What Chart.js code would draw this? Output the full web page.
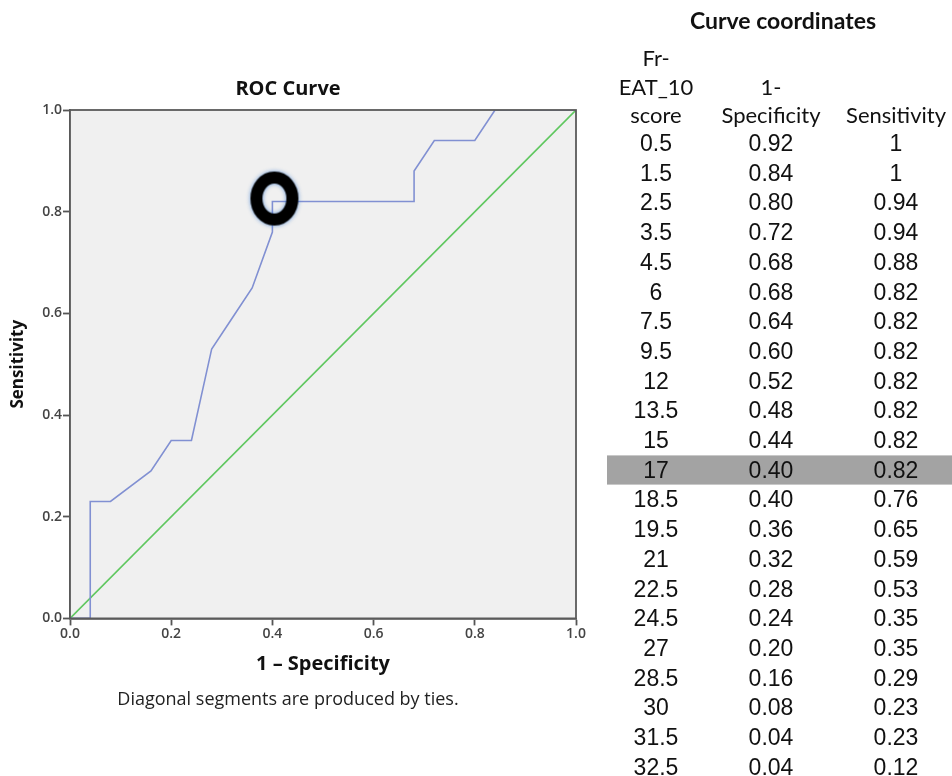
<!DOCTYPE html>
<html>
<head>
<meta charset="utf-8">
<script src="https://cdn.jsdelivr.net/npm/chart.js@4.4.1/dist/chart.umd.min.js"></script>
<style>
  body { margin: 0; background: #fff; width: 952px; height: 776px; overflow: hidden; position: relative; }
  #chartBox { position: absolute; left: 0; top: 0; width: 600px; height: 720px; }
  #coords { position: absolute; left: 0; top: 0; width: 952px; height: 776px; pointer-events: none; }
  .cell { position: absolute; transform: translate(-50%, -50%); white-space: nowrap; color: #111; }
  .head { font-family: Lato, "Open Sans", sans-serif; font-size: 22px; }
  .title { font-size: 23px; font-weight: bold; }
  .val { font-family: "Liberation Sans", Arial, sans-serif; font-size: 23px; }
  .band { position: absolute; left: 607px; width: 345px; height: 30px; background: #a3a3a3; border-top: 1px solid #c8c8c8; border-bottom: 1px solid #c8c8c8; box-sizing: border-box; }
</style>
</head>
<body>
<div id="chartBox"><canvas id="rocChart" width="600" height="720"></canvas></div>
<div id="coords"></div>
<script>
// Curve coordinates table (rows visible in the reference)
const scores = ['0.5', '1.5', '2.5', '3.5', '4.5', '6', '7.5', '9.5', '12', '13.5', '15',
  '17', '18.5', '19.5', '21', '22.5', '24.5', '27', '28.5', '30', '31.5', '32.5'];
const fpr = [0.92, 0.84, 0.80, 0.72, 0.68, 0.68, 0.64, 0.60, 0.52, 0.48, 0.44,
  0.40, 0.40, 0.36, 0.32, 0.28, 0.24, 0.20, 0.16, 0.08, 0.04, 0.04];
const tpr = [1, 1, 0.94, 0.94, 0.88, 0.82, 0.82, 0.82, 0.82, 0.82, 0.82,
  0.82, 0.76, 0.65, 0.59, 0.53, 0.35, 0.35, 0.29, 0.23, 0.23, 0.12];
const fprLabels = ['0.92', '0.84', '0.80', '0.72', '0.68', '0.68', '0.64', '0.60', '0.52', '0.48', '0.44',
  '0.40', '0.40', '0.36', '0.32', '0.28', '0.24', '0.20', '0.16', '0.08', '0.04', '0.04'];
const tprLabels = ['1', '1', '0.94', '0.94', '0.88', '0.82', '0.82', '0.82', '0.82', '0.82', '0.82',
  '0.82', '0.76', '0.65', '0.59', '0.53', '0.35', '0.35', '0.29', '0.23', '0.23', '0.12'];
// curve ends that fall outside the visible table rows
const startPoint = [1, 1];
const endPoints = [[0.04, 0], [0, 0]];
const chosenRow = 11; // score 17
const axisTicks = [0, 0.2, 0.4, 0.6, 0.8, 1.0];

// build the curve from the table
let rocPoints = [{ x: startPoint[0], y: startPoint[1] }];
for (let i = 0; i < fpr.length; i++) {
  rocPoints.push({ x: fpr[i], y: tpr[i] });
}
endPoints.forEach(p => rocPoints.push({ x: p[0], y: p[1] }));

// hand-drawn looking "O" marker for the chosen cut-off
function makeRing() {
  const c = document.createElement('canvas');
  c.width = 72; c.height = 76;
  const g = c.getContext('2d');
  g.shadowColor = 'rgba(70,130,210,0.8)';
  g.shadowBlur = 4;
  g.strokeStyle = '#000';
  g.lineWidth = 12;
  g.beginPath();
  g.ellipse(38, 35, 18, 21, 0, 0, Math.PI * 2);
  g.stroke();
  return c;
}

// plot background and frame
const framePlugin = {
  id: 'frame',
  beforeDatasetsDraw(chart) {
    const a = chart.chartArea, ctx = chart.ctx;
    ctx.save();
    ctx.fillStyle = '#f0f0f0';
    ctx.fillRect(a.left, a.top, a.right - a.left, a.bottom - a.top);
    ctx.restore();
  },
  afterDatasetsDraw(chart) {
    const a = chart.chartArea, ctx = chart.ctx;
    ctx.save();
    ctx.strokeStyle = '#5a5a5a';
    ctx.lineWidth = 1.8;
    ctx.strokeRect(a.left, a.top, a.right - a.left, a.bottom - a.top);
    ctx.restore();
  }
};

const ctx = document.getElementById('rocChart').getContext('2d');
const rocChart = new Chart(ctx, {
  type: 'scatter',
  data: {
    datasets: [
      {
        data: [{ x: 0, y: 0 }, { x: 1, y: 1 }],
        showLine: true, borderColor: '#5fc75f', borderWidth: 1.6, pointRadius: 0, order: 2
      },
      {
        data: rocPoints,
        showLine: true, borderColor: '#8190d2', borderWidth: 1.6, pointRadius: 0, order: 1
      },
      {
        data: [{ x: fpr[chosenRow], y: tpr[chosenRow] }],
        pointStyle: makeRing(), pointRadius: 20, order: 0
      }
    ]
  },
  options: {
    responsive: false,
    animation: false,
    devicePixelRatio: 1,
    layout: { padding: { left: 0, right: 24, top: 0, bottom: 0 } },
    plugins: {
      legend: { display: false },
      tooltip: { enabled: false },
      title: {
        display: true, text: 'ROC Curve', color: '#111',
        font: { family: 'Open Sans', size: 20, weight: 'bold' },
        padding: { top: 77, bottom: 9 }
      },
      subtitle: {
        display: true, position: 'bottom', text: 'Diagonal segments are produced by ties.', color: '#222',
        font: { family: 'Open Sans', size: 18 },
        padding: { top: 7, bottom: 9 }
      }
    },
    scales: {
      x: {
        type: 'linear', min: 0, max: 1,
        afterBuildTicks: s => { s.ticks = axisTicks.map(v => ({ value: v })); },
        afterFit: s => { s.height = 64; },
        ticks: { color: '#444', font: { family: 'Open Sans', size: 14, weight: '600' }, padding: 0, callback: v => v.toFixed(1), maxRotation: 0 },
        grid: { drawOnChartArea: false, tickLength: 7, tickColor: '#555', tickWidth: 1.8 },
        border: { color: '#5a5a5a', width: 1.8 },
        title: { display: true, text: '1 \u2013 Specificity', color: '#111', font: { family: 'Open Sans', size: 20, weight: 'bold' }, padding: { top: 2, bottom: 6 } }
      },
      y: {
        type: 'linear', min: 0, max: 1,
        afterBuildTicks: s => { s.ticks = axisTicks.map(v => ({ value: v })); },
        afterFit: s => { s.width = 70; },
        ticks: { color: '#444', font: { family: 'Open Sans', size: 14, weight: '600' }, padding: 1, callback: v => v.toFixed(1) },
        grid: { drawOnChartArea: false, tickLength: 7, tickColor: '#555', tickWidth: 1.8 },
        border: { color: '#5a5a5a', width: 1.8 },
        title: { display: true, text: 'Sensitivity', color: '#111', font: { family: 'Open Sans', size: 17, weight: 'bold' }, padding: { top: 8, bottom: 4 } }
      }
    }
  },
  plugins: [framePlugin]
});

// coordinates table
const coords = document.getElementById('coords');
const colX = [656, 771, 896];
const rowY0 = 143, rowStep = 29.7;

function addCell(text, x, y, cls) {
  let d = document.createElement('div');
  d.className = 'cell ' + cls;
  d.style.left = x + 'px';
  d.style.top = y + 'px';
  d.textContent = text;
  coords.appendChild(d);
}

let band = document.createElement('div');
band.className = 'band';
band.style.top = (rowY0 + chosenRow * rowStep - 15) + 'px';
coords.appendChild(band);

addCell('Curve coordinates', 783, 20, 'head title');
addCell('Fr-', colX[0], 57, 'head');
addCell('EAT_10', colX[0], 86, 'head');
addCell('1-', colX[1], 86, 'head');
addCell('score', colX[0], 114, 'head');
addCell('Specificity', colX[1], 114, 'head');
addCell('Sensitivity', colX[2], 114, 'head');

for (let i = 0; i < scores.length; i++) {
  let y = rowY0 + i * rowStep;
  addCell(scores[i], colX[0], y, 'val');
  addCell(fprLabels[i], colX[1], y, 'val');
  addCell(tprLabels[i], colX[2], y, 'val');
}
</script>
</body>
</html>
